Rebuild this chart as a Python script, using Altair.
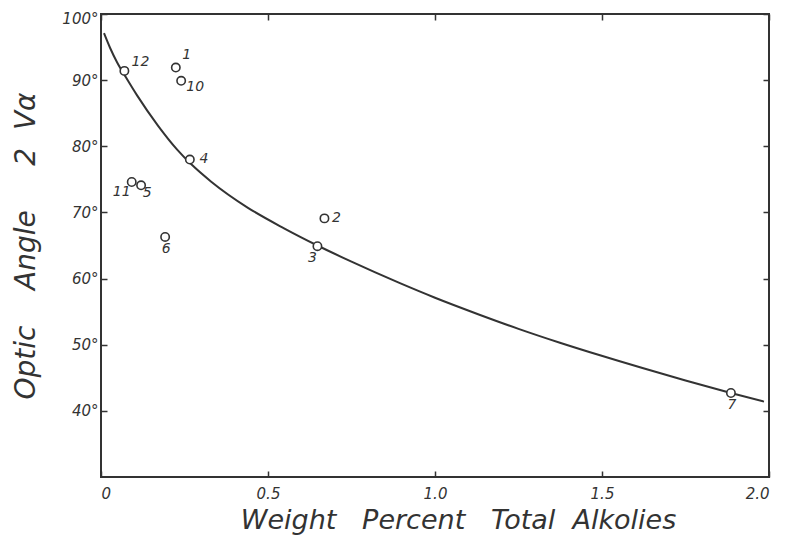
import altair as alt
import pandas as pd

# ---- data ----
sample_id = ["12", "1", "10", "4", "11", "5", "6", "2", "3", "7"]
alkalies = [0.07, 0.224, 0.240, 0.266, 0.092, 0.120, 0.192, 0.669, 0.648, 1.886]
angle_2va = [91.4, 91.9, 89.9, 78.0, 74.6, 74.1, 66.3, 69.1, 64.9, 42.7]

curve_x = [0.009, 0.027, 0.048, 0.075, 0.108, 0.171, 0.228, 0.272, 0.33, 0.44, 0.548,
           0.648, 0.75, 0.895, 1.0, 1.135, 1.25, 1.374, 1.494, 1.75, 1.886, 1.985]
curve_y = [97.1, 94.9, 92.7, 90.4, 87.7, 83.1, 79.5, 77.2, 74.65, 70.7, 67.6,
           65.0, 62.55, 59.3, 57.1, 54.5, 52.4, 50.3, 48.4, 44.6, 42.7, 41.4]

x_ticks = [0, 0.5, 1.0, 1.5, 2.0]
y_ticks = [40, 50, 60, 70, 80, 90, 100]

# label placement offsets (pixels) for point annotations
label_dx = [16, 11, 14, 14, -10, 6, 1, 12, -5, 1]
label_dy = [-9, -13, 6, -1, 10, 8, 12, 0, 12, 12]

W, H = 668, 463
FONT = "DejaVu Sans"
INK = "#333333"
NB = "\u00a0"

x_title = f"Weight{NB*3}Percent{NB*3}Total{NB*2}Alkolies"
y_title = f"Optic{NB*4}Angle{NB*5}2{NB*2}Vα"

points = pd.DataFrame({"id": sample_id, "x": alkalies, "y": angle_2va})
curve = pd.DataFrame({"x": curve_x, "y": curve_y})

xs = alt.Scale(domain=[0, 2.0], nice=False, zero=False)
ys = alt.Scale(domain=[30, 100], nice=False, zero=False)

common = dict(grid=False, labelFont=FONT, titleFont=FONT, labelColor=INK, titleColor=INK,
              tickColor=INK, domainColor=INK)

# main axes: labels + titles, no ticks
x_main = alt.Axis(values=x_ticks, orient="bottom", ticks=False, domain=False,
                  labelExpr="datum.value == 0 ? '0' : format(datum.value, '.1f')",
                  labelFontSize=15, labelFontStyle="italic", labelPadding=9,
                  title=x_title, titleFontSize=27,
                  titleFontStyle="italic", titleFontWeight="normal", titlePadding=6,
                  titleX=357, **common)
y_main = alt.Axis(values=y_ticks, orient="left", ticks=False, domain=False,
                  labelExpr="datum.value + '°'", labelFontSize=15,
                  labelFontStyle="italic", labelPadding=3,
                  labelFlush=True, labelFlushOffset=3,
                  title=y_title, titleFontSize=28, titleFontStyle="italic",
                  titleFontWeight="normal", titlePadding=21, **common)

# inside ticks: axes shifted across the plot so ticks point inward
x_in_bottom = alt.Axis(values=x_ticks, orient="top", offset=-H, labels=False, domain=False,
                       tickSize=6, tickWidth=1.5, title=None, **common)
x_in_top = alt.Axis(values=x_ticks, orient="bottom", offset=-H, labels=False, domain=False,
                    tickSize=6, tickWidth=1.5, title=None, **common)
y_in_left = alt.Axis(values=y_ticks, orient="right", offset=-W, labels=False, domain=False,
                     tickSize=6, tickWidth=1.5, title=None, **common)
y_in_right = alt.Axis(values=y_ticks, orient="left", offset=-W, labels=False, domain=False,
                      tickSize=6, tickWidth=1.5, title=None, **common)

line = alt.Chart(curve).mark_line(color=INK, strokeWidth=2, interpolate="monotone").encode(
    x=alt.X("x:Q", scale=xs, axis=x_main),
    y=alt.Y("y:Q", scale=ys, axis=y_main),
)

circles = alt.Chart(points).mark_point(shape="circle", size=70, filled=True, fill="white",
                                       stroke=INK, strokeWidth=1.6, opacity=1).encode(
    x=alt.X("x:Q", scale=xs, axis=x_in_bottom),
    y=alt.Y("y:Q", scale=ys, axis=y_in_left),
)

label_layers = []
for i, (lid, dx, dy) in enumerate(zip(sample_id, label_dx, label_dy)):
    if i == 0:
        xa, ya = x_in_top, y_in_right
    else:
        xa, ya = None, None
    t = alt.Chart(points[points["id"] == lid]).mark_text(
        dx=dx, dy=dy, font=FONT, fontSize=14, fontStyle="italic", color=INK
    ).encode(
        x=alt.X("x:Q", scale=xs, axis=xa),
        y=alt.Y("y:Q", scale=ys, axis=ya),
        text="id:N",
    )
    label_layers.append(t)

chart = alt.layer(line, circles, *label_layers).resolve_axis(
    x="independent", y="independent"
).properties(
    width=W, height=H,
    autosize=alt.AutoSizeParams(type="none"),
    padding={"left": 93, "top": 6, "right": 10, "bottom": 61},
    background="white",
).configure_view(stroke=INK, strokeWidth=2)

chart.save("out.html", embed_options={"renderer": "svg", "actions": False})
